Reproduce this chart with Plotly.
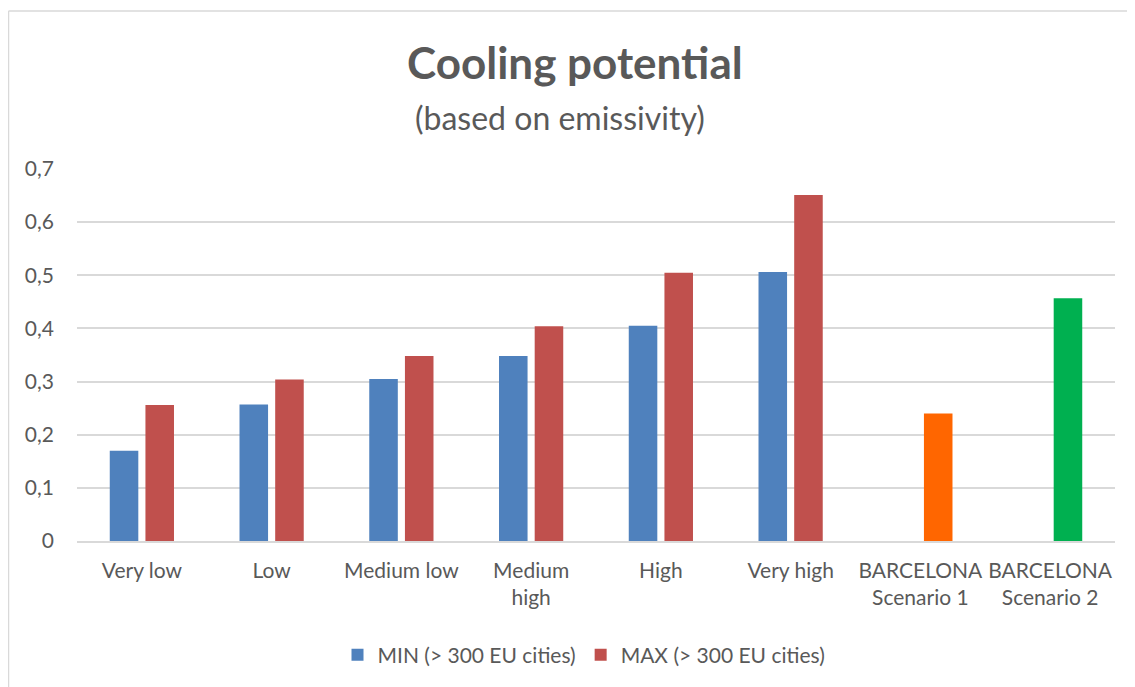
import plotly.graph_objects as go

categories = ["Very low", "Low", "Medium low", "Medium<br>high", "High", "Very high",
              "BARCELONA<br>Scenario 1", "BARCELONA<br>Scenario 2"]
min_values = [0.17, 0.257, 0.305, 0.348, 0.405, 0.506, None, None]
max_values = [0.256, 0.304, 0.348, 0.404, 0.505, 0.651, 0.24, 0.457]
max_colors = ["#C0504D"] * 6 + ["#FF6600", "#00B050"]
tick_vals = [0, 0.1, 0.2, 0.3, 0.4, 0.5, 0.6, 0.7]
tick_text = ["0", "0,1", "0,2", "0,3", "0,4", "0,5", "0,6", "0,7"]

OFF = 8  # page body margin
W, H = 1135 - OFF, 687 - OFF
# plot area in page coordinates
PL, PR, PT, PB = 77, 1115, 169, 541
ml, mr, mt, mb = PL - OFF, W - (PR - OFF), PT - OFF, H - (PB - OFF)
pw, ph = PR - PL, PB - PT

def px_x(x):
    return (x - PL) / pw

def px_y(y):
    return 1 - (y - PT) / ph

font = "Lato, Noto Sans, sans-serif"
grey = "#595959"

fig = go.Figure()
fig.add_bar(x=categories, y=min_values, name="MIN (> 300 EU cities)",
            marker=dict(color="#4F81BD", line=dict(width=0)))
fig.add_bar(x=categories, y=max_values, name="MAX (> 300 EU cities)",
            marker=dict(color=max_colors, line=dict(width=0)))

fig.update_layout(
    width=W, height=H,
    margin=dict(l=ml, r=mr, t=mt, b=mb, pad=0),
    paper_bgcolor="white", plot_bgcolor="white",
    barmode="group", bargap=0.45, bargroupgap=0.2,
    font=dict(family=font, color=grey, size=21),
    showlegend=True,
    legend=dict(orientation="h", x=px_x(584), xanchor="center", y=px_y(655), yanchor="middle",
                font=dict(size=21, color=grey), itemwidth=30, traceorder="normal"),
    xaxis=dict(showgrid=False, showline=True, linecolor="#d9d9d9", linewidth=1.5,
               ticks="", tickfont=dict(size=21, color=grey), fixedrange=True,
               ticklabelstandoff=10),
    yaxis=dict(range=[0, 0.7], tickvals=tick_vals, ticktext=tick_text,
               showgrid=True, gridcolor="#d9d9d9", gridwidth=1.5,
               zeroline=False, showline=False, ticks="", ticklen=0,
               tickfont=dict(size=21, color=grey), fixedrange=True,
               ticklabelstandoff=22),
    annotations=[
        dict(text="<b>Cooling potential</b>", xref="paper", yref="paper",
             x=px_x(575), y=px_y(62), xanchor="center", yanchor="middle",
             showarrow=False, font=dict(size=44, color=grey, family=font)),
        dict(text="(based on emissivity)", xref="paper", yref="paper",
             x=px_x(560), y=px_y(117), xanchor="center", yanchor="middle",
             showarrow=False, font=dict(size=32, color=grey, family=font)),
    ],
    shapes=[
        dict(type="line", xref="paper", yref="paper", x0=px_x(OFF + 0.5), x1=px_x(1140),
             y0=px_y(11), y1=px_y(11), line=dict(color="#d9d9d9", width=1.5)),
        dict(type="line", xref="paper", yref="paper", x0=px_x(OFF + 0.5), x1=px_x(OFF + 0.5),
             y0=px_y(11), y1=px_y(700), line=dict(color="#d9d9d9", width=1.5)),
    ],
)

fig.write_html("out.html")
